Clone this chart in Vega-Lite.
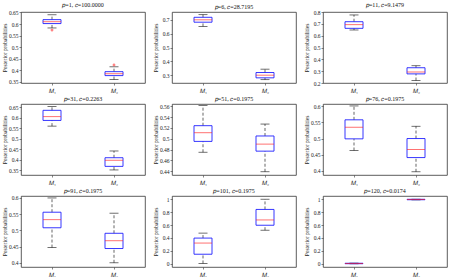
{
  "$schema": "https://vega.github.io/schema/vega-lite/v6.json",
  "padding": {"left": 1, "top": 1, "right": 0, "bottom": 0},
  "background": "white",
  "spacing": 1,
  "config": {
    "font": "Liberation Serif",
    "view": {"stroke": "#333", "strokeWidth": 0.8},
    "axis": {"labelFont": "Liberation Serif", "titleFont": "Liberation Serif", "labelFontSize": 5.5, "titleFontSize": 5.5, "titleFontWeight": "normal", "grid": false, "domain": false, "tickSize": 2, "tickWidth": 0.6, "tickColor": "#333", "labelColor": "#222", "titleColor": "#222", "labelPadding": 1, "titlePadding": 2, "labelOverlap": false, "labelFlush": false},
    "axisY": {"minExtent": 12, "maxExtent": 12, "tickCount": 20},
    "axisX": {"labelAngle": 0, "title": null, "labelFontSize": 6, "labelPadding": 2},
    "title": {"font": "Liberation Serif", "fontSize": 6, "fontWeight": "normal", "offset": 2, "frame": "group", "color": "#111"},
    "concat": {"spacing": 6}
  },
  "datasets": {
    "box": [
      {"panel": 1, "model": "𝑀₁", "lo": 0.583, "q1": 0.602, "med": 0.610, "q3": 0.619, "hi": 0.640},
      {"panel": 1, "model": "𝑀₂", "lo": 0.360, "q1": 0.377, "med": 0.385, "q3": 0.394, "hi": 0.415},
      {"panel": 2, "model": "𝑀₁", "lo": 0.651, "q1": 0.681, "med": 0.698, "q3": 0.716, "hi": 0.735},
      {"panel": 2, "model": "𝑀₂", "lo": 0.270, "q1": 0.283, "med": 0.302, "q3": 0.321, "hi": 0.345},
      {"panel": 3, "model": "𝑀₁", "lo": 0.648, "q1": 0.662, "med": 0.693, "q3": 0.718, "hi": 0.775},
      {"panel": 3, "model": "𝑀₂", "lo": 0.221, "q1": 0.277, "med": 0.293, "q3": 0.329, "hi": 0.346},
      {"panel": 4, "model": "𝑀₁", "lo": 0.560, "q1": 0.587, "med": 0.605, "q3": 0.635, "hi": 0.653},
      {"panel": 4, "model": "𝑀₂", "lo": 0.352, "q1": 0.369, "med": 0.398, "q3": 0.410, "hi": 0.442},
      {"panel": 5, "model": "𝑀₁", "lo": 0.475, "q1": 0.495, "med": 0.511, "q3": 0.524, "hi": 0.561},
      {"panel": 5, "model": "𝑀₂", "lo": 0.439, "q1": 0.477, "med": 0.490, "q3": 0.505, "hi": 0.527},
      {"panel": 6, "model": "𝑀₁", "lo": 0.463, "q1": 0.499, "med": 0.535, "q3": 0.558, "hi": 0.601},
      {"panel": 6, "model": "𝑀₂", "lo": 0.397, "q1": 0.441, "med": 0.466, "q3": 0.500, "hi": 0.538},
      {"panel": 7, "model": "𝑀₁", "lo": 0.447, "q1": 0.508, "med": 0.533, "q3": 0.556, "hi": 0.600},
      {"panel": 7, "model": "𝑀₂", "lo": 0.400, "q1": 0.444, "med": 0.468, "q3": 0.491, "hi": 0.553},
      {"panel": 8, "model": "𝑀₁", "lo": 0.005, "q1": 0.148, "med": 0.321, "q3": 0.398, "hi": 0.475},
      {"panel": 8, "model": "𝑀₂", "lo": 0.520, "q1": 0.597, "med": 0.679, "q3": 0.842, "hi": 1.0},
      {"panel": 9, "model": "𝑀₁", "lo": 0.0, "q1": 0.001, "med": 0.004, "q3": 0.008, "hi": 0.010},
      {"panel": 9, "model": "𝑀₂", "lo": 0.990, "q1": 0.992, "med": 0.996, "q3": 0.999, "hi": 1.0}
    ],
    "out": [
      {"panel": 1, "model": "𝑀₁", "value": 0.574},
      {"panel": 1, "model": "𝑀₂", "value": 0.423}
    ]
  },
  "vconcat": [
    {"hconcat": [
      {"width": 124, "height": 71, "title": "𝑝=1, 𝑐=100.0000",
       "layer": [
        {"data": {"name": "box"}, "transform": [{"filter": "datum.panel==1"}],
         "layer": [
          {"mark": {"type": "rule", "strokeDash": [3, 2], "color": "black", "strokeWidth": 0.6}, "encoding": {"x": {"field": "model", "type": "nominal", "scale": {"type": "point", "padding": 0.5, "domain": ["𝑀₁", "𝑀₂"]}}, "y": {"field": "q3", "type": "quantitative", "scale": {"domain": [0.345, 0.652], "nice": false, "zero": false}, "axis": {"values": [0.35, 0.4, 0.45, 0.5, 0.55, 0.6, 0.65], "tickCount": 20, "format": "~g", "labelOverlap": false, "labelFlush": false, "title": "Posterior probabilities"}}, "y2": {"field": "hi"}}},
          {"mark": {"type": "rule", "strokeDash": [3, 2], "color": "black", "strokeWidth": 0.6}, "encoding": {"x": {"field": "model", "type": "nominal", "scale": {"type": "point", "padding": 0.5, "domain": ["𝑀₁", "𝑀₂"]}}, "y": {"field": "lo", "type": "quantitative", "scale": {"domain": [0.345, 0.652], "nice": false, "zero": false}}, "y2": {"field": "q1"}}},
          {"mark": {"type": "tick", "color": "black", "size": 9, "thickness": 0.8}, "encoding": {"x": {"field": "model", "type": "nominal", "scale": {"type": "point", "padding": 0.5, "domain": ["𝑀₁", "𝑀₂"]}}, "y": {"field": "hi", "type": "quantitative", "scale": {"domain": [0.345, 0.652], "nice": false, "zero": false}}}},
          {"mark": {"type": "tick", "color": "black", "size": 9, "thickness": 0.8}, "encoding": {"x": {"field": "model", "type": "nominal", "scale": {"type": "point", "padding": 0.5, "domain": ["𝑀₁", "𝑀₂"]}}, "y": {"field": "lo", "type": "quantitative", "scale": {"domain": [0.345, 0.652], "nice": false, "zero": false}}}},
          {"mark": {"type": "bar", "size": 18, "fill": "white", "fillOpacity": 0, "stroke": "#2020ff", "strokeWidth": 0.9}, "encoding": {"x": {"field": "model", "type": "nominal", "scale": {"type": "point", "padding": 0.5, "domain": ["𝑀₁", "𝑀₂"]}}, "y": {"field": "q1", "type": "quantitative", "scale": {"domain": [0.345, 0.652], "nice": false, "zero": false}}, "y2": {"field": "q3"}}},
          {"mark": {"type": "tick", "color": "#ff2020", "size": 18, "thickness": 0.9}, "encoding": {"x": {"field": "model", "type": "nominal", "scale": {"type": "point", "padding": 0.5, "domain": ["𝑀₁", "𝑀₂"]}}, "y": {"field": "med", "type": "quantitative", "scale": {"domain": [0.345, 0.652], "nice": false, "zero": false}}}}
         ]},
        {"data": {"name": "out"}, "transform": [{"filter": "datum.panel==1"}],
         "mark": {"type": "point", "shape": "cross", "color": "#ff2020", "size": 8, "filled": true},
         "encoding": {"x": {"field": "model", "type": "nominal", "scale": {"type": "point", "padding": 0.5, "domain": ["𝑀₁", "𝑀₂"]}}, "y": {"field": "value", "type": "quantitative", "scale": {"domain": [0.345, 0.652], "nice": false, "zero": false}}}}
       ]},
      {"width": 124, "height": 71, "title": "𝑝=6, 𝑐=28.7195",
       "data": {"name": "box"}, "transform": [{"filter": "datum.panel==2"}],
       "layer": [
          {"mark": {"type": "rule", "strokeDash": [3, 2], "color": "black", "strokeWidth": 0.6}, "encoding": {"x": {"field": "model", "type": "nominal", "scale": {"type": "point", "padding": 0.5, "domain": ["𝑀₁", "𝑀₂"]}}, "y": {"field": "q3", "type": "quantitative", "scale": {"domain": [0.246, 0.754], "nice": false, "zero": false}, "axis": {"values": [0.3, 0.4, 0.5, 0.6, 0.7], "tickCount": 20, "format": "~g", "labelOverlap": false, "labelFlush": false, "title": "Posterior probabilities"}}, "y2": {"field": "hi"}}},
          {"mark": {"type": "rule", "strokeDash": [3, 2], "color": "black", "strokeWidth": 0.6}, "encoding": {"x": {"field": "model", "type": "nominal", "scale": {"type": "point", "padding": 0.5, "domain": ["𝑀₁", "𝑀₂"]}}, "y": {"field": "lo", "type": "quantitative", "scale": {"domain": [0.246, 0.754], "nice": false, "zero": false}}, "y2": {"field": "q1"}}},
          {"mark": {"type": "tick", "color": "black", "size": 9, "thickness": 0.8}, "encoding": {"x": {"field": "model", "type": "nominal", "scale": {"type": "point", "padding": 0.5, "domain": ["𝑀₁", "𝑀₂"]}}, "y": {"field": "hi", "type": "quantitative", "scale": {"domain": [0.246, 0.754], "nice": false, "zero": false}}}},
          {"mark": {"type": "tick", "color": "black", "size": 9, "thickness": 0.8}, "encoding": {"x": {"field": "model", "type": "nominal", "scale": {"type": "point", "padding": 0.5, "domain": ["𝑀₁", "𝑀₂"]}}, "y": {"field": "lo", "type": "quantitative", "scale": {"domain": [0.246, 0.754], "nice": false, "zero": false}}}},
          {"mark": {"type": "bar", "size": 18, "fill": "white", "fillOpacity": 0, "stroke": "#2020ff", "strokeWidth": 0.9}, "encoding": {"x": {"field": "model", "type": "nominal", "scale": {"type": "point", "padding": 0.5, "domain": ["𝑀₁", "𝑀₂"]}}, "y": {"field": "q1", "type": "quantitative", "scale": {"domain": [0.246, 0.754], "nice": false, "zero": false}}, "y2": {"field": "q3"}}},
          {"mark": {"type": "tick", "color": "#ff2020", "size": 18, "thickness": 0.9}, "encoding": {"x": {"field": "model", "type": "nominal", "scale": {"type": "point", "padding": 0.5, "domain": ["𝑀₁", "𝑀₂"]}}, "y": {"field": "med", "type": "quantitative", "scale": {"domain": [0.246, 0.754], "nice": false, "zero": false}}}}
       ]},
      {"width": 124, "height": 71, "title": "𝑝=11, 𝑐=9.1479",
       "data": {"name": "box"}, "transform": [{"filter": "datum.panel==3"}],
       "layer": [
          {"mark": {"type": "rule", "strokeDash": [3, 2], "color": "black", "strokeWidth": 0.6}, "encoding": {"x": {"field": "model", "type": "nominal", "scale": {"type": "point", "padding": 0.5, "domain": ["𝑀₁", "𝑀₂"]}}, "y": {"field": "q3", "type": "quantitative", "scale": {"domain": [0.2, 0.8], "nice": false, "zero": false}, "axis": {"values": [0.2, 0.3, 0.4, 0.5, 0.6, 0.7, 0.8], "tickCount": 20, "format": "~g", "labelOverlap": false, "labelFlush": false, "title": "Posterior probabilities"}}, "y2": {"field": "hi"}}},
          {"mark": {"type": "rule", "strokeDash": [3, 2], "color": "black", "strokeWidth": 0.6}, "encoding": {"x": {"field": "model", "type": "nominal", "scale": {"type": "point", "padding": 0.5, "domain": ["𝑀₁", "𝑀₂"]}}, "y": {"field": "lo", "type": "quantitative", "scale": {"domain": [0.2, 0.8], "nice": false, "zero": false}}, "y2": {"field": "q1"}}},
          {"mark": {"type": "tick", "color": "black", "size": 9, "thickness": 0.8}, "encoding": {"x": {"field": "model", "type": "nominal", "scale": {"type": "point", "padding": 0.5, "domain": ["𝑀₁", "𝑀₂"]}}, "y": {"field": "hi", "type": "quantitative", "scale": {"domain": [0.2, 0.8], "nice": false, "zero": false}}}},
          {"mark": {"type": "tick", "color": "black", "size": 9, "thickness": 0.8}, "encoding": {"x": {"field": "model", "type": "nominal", "scale": {"type": "point", "padding": 0.5, "domain": ["𝑀₁", "𝑀₂"]}}, "y": {"field": "lo", "type": "quantitative", "scale": {"domain": [0.2, 0.8], "nice": false, "zero": false}}}},
          {"mark": {"type": "bar", "size": 18, "fill": "white", "fillOpacity": 0, "stroke": "#2020ff", "strokeWidth": 0.9}, "encoding": {"x": {"field": "model", "type": "nominal", "scale": {"type": "point", "padding": 0.5, "domain": ["𝑀₁", "𝑀₂"]}}, "y": {"field": "q1", "type": "quantitative", "scale": {"domain": [0.2, 0.8], "nice": false, "zero": false}}, "y2": {"field": "q3"}}},
          {"mark": {"type": "tick", "color": "#ff2020", "size": 18, "thickness": 0.9}, "encoding": {"x": {"field": "model", "type": "nominal", "scale": {"type": "point", "padding": 0.5, "domain": ["𝑀₁", "𝑀₂"]}}, "y": {"field": "med", "type": "quantitative", "scale": {"domain": [0.2, 0.8], "nice": false, "zero": false}}}}
       ]}
    ]},
    {"hconcat": [
      {"width": 124, "height": 71, "title": "𝑝=31, 𝑐=0.2263",
       "data": {"name": "box"}, "transform": [{"filter": "datum.panel==4"}],
       "layer": [
          {"mark": {"type": "rule", "strokeDash": [3, 2], "color": "black", "strokeWidth": 0.6}, "encoding": {"x": {"field": "model", "type": "nominal", "scale": {"type": "point", "padding": 0.5, "domain": ["𝑀₁", "𝑀₂"]}}, "y": {"field": "q3", "type": "quantitative", "scale": {"domain": [0.328, 0.665], "nice": false, "zero": false}, "axis": {"values": [0.35, 0.4, 0.45, 0.5, 0.55, 0.6, 0.65], "tickCount": 20, "format": "~g", "labelOverlap": false, "labelFlush": false, "title": "Posterior probabilities"}}, "y2": {"field": "hi"}}},
          {"mark": {"type": "rule", "strokeDash": [3, 2], "color": "black", "strokeWidth": 0.6}, "encoding": {"x": {"field": "model", "type": "nominal", "scale": {"type": "point", "padding": 0.5, "domain": ["𝑀₁", "𝑀₂"]}}, "y": {"field": "lo", "type": "quantitative", "scale": {"domain": [0.328, 0.665], "nice": false, "zero": false}}, "y2": {"field": "q1"}}},
          {"mark": {"type": "tick", "color": "black", "size": 9, "thickness": 0.8}, "encoding": {"x": {"field": "model", "type": "nominal", "scale": {"type": "point", "padding": 0.5, "domain": ["𝑀₁", "𝑀₂"]}}, "y": {"field": "hi", "type": "quantitative", "scale": {"domain": [0.328, 0.665], "nice": false, "zero": false}}}},
          {"mark": {"type": "tick", "color": "black", "size": 9, "thickness": 0.8}, "encoding": {"x": {"field": "model", "type": "nominal", "scale": {"type": "point", "padding": 0.5, "domain": ["𝑀₁", "𝑀₂"]}}, "y": {"field": "lo", "type": "quantitative", "scale": {"domain": [0.328, 0.665], "nice": false, "zero": false}}}},
          {"mark": {"type": "bar", "size": 18, "fill": "white", "fillOpacity": 0, "stroke": "#2020ff", "strokeWidth": 0.9}, "encoding": {"x": {"field": "model", "type": "nominal", "scale": {"type": "point", "padding": 0.5, "domain": ["𝑀₁", "𝑀₂"]}}, "y": {"field": "q1", "type": "quantitative", "scale": {"domain": [0.328, 0.665], "nice": false, "zero": false}}, "y2": {"field": "q3"}}},
          {"mark": {"type": "tick", "color": "#ff2020", "size": 18, "thickness": 0.9}, "encoding": {"x": {"field": "model", "type": "nominal", "scale": {"type": "point", "padding": 0.5, "domain": ["𝑀₁", "𝑀₂"]}}, "y": {"field": "med", "type": "quantitative", "scale": {"domain": [0.328, 0.665], "nice": false, "zero": false}}}}
       ]},
      {"width": 124, "height": 71, "title": "𝑝=51, 𝑐=0.1975",
       "data": {"name": "box"}, "transform": [{"filter": "datum.panel==5"}],
       "layer": [
          {"mark": {"type": "rule", "strokeDash": [3, 2], "color": "black", "strokeWidth": 0.6}, "encoding": {"x": {"field": "model", "type": "nominal", "scale": {"type": "point", "padding": 0.5, "domain": ["𝑀₁", "𝑀₂"]}}, "y": {"field": "q3", "type": "quantitative", "scale": {"domain": [0.433, 0.564], "nice": false, "zero": false}, "axis": {"values": [0.44, 0.46, 0.48, 0.5, 0.52, 0.54, 0.56], "tickCount": 20, "format": "~g", "labelOverlap": false, "labelFlush": false, "title": "Posterior probabilities"}}, "y2": {"field": "hi"}}},
          {"mark": {"type": "rule", "strokeDash": [3, 2], "color": "black", "strokeWidth": 0.6}, "encoding": {"x": {"field": "model", "type": "nominal", "scale": {"type": "point", "padding": 0.5, "domain": ["𝑀₁", "𝑀₂"]}}, "y": {"field": "lo", "type": "quantitative", "scale": {"domain": [0.433, 0.564], "nice": false, "zero": false}}, "y2": {"field": "q1"}}},
          {"mark": {"type": "tick", "color": "black", "size": 9, "thickness": 0.8}, "encoding": {"x": {"field": "model", "type": "nominal", "scale": {"type": "point", "padding": 0.5, "domain": ["𝑀₁", "𝑀₂"]}}, "y": {"field": "hi", "type": "quantitative", "scale": {"domain": [0.433, 0.564], "nice": false, "zero": false}}}},
          {"mark": {"type": "tick", "color": "black", "size": 9, "thickness": 0.8}, "encoding": {"x": {"field": "model", "type": "nominal", "scale": {"type": "point", "padding": 0.5, "domain": ["𝑀₁", "𝑀₂"]}}, "y": {"field": "lo", "type": "quantitative", "scale": {"domain": [0.433, 0.564], "nice": false, "zero": false}}}},
          {"mark": {"type": "bar", "size": 18, "fill": "white", "fillOpacity": 0, "stroke": "#2020ff", "strokeWidth": 0.9}, "encoding": {"x": {"field": "model", "type": "nominal", "scale": {"type": "point", "padding": 0.5, "domain": ["𝑀₁", "𝑀₂"]}}, "y": {"field": "q1", "type": "quantitative", "scale": {"domain": [0.433, 0.564], "nice": false, "zero": false}}, "y2": {"field": "q3"}}},
          {"mark": {"type": "tick", "color": "#ff2020", "size": 18, "thickness": 0.9}, "encoding": {"x": {"field": "model", "type": "nominal", "scale": {"type": "point", "padding": 0.5, "domain": ["𝑀₁", "𝑀₂"]}}, "y": {"field": "med", "type": "quantitative", "scale": {"domain": [0.433, 0.564], "nice": false, "zero": false}}}}
       ]},
      {"width": 124, "height": 71, "title": "𝑝=76, 𝑐=0.1975",
       "data": {"name": "box"}, "transform": [{"filter": "datum.panel==6"}],
       "layer": [
          {"mark": {"type": "rule", "strokeDash": [3, 2], "color": "black", "strokeWidth": 0.6}, "encoding": {"x": {"field": "model", "type": "nominal", "scale": {"type": "point", "padding": 0.5, "domain": ["𝑀₁", "𝑀₂"]}}, "y": {"field": "q3", "type": "quantitative", "scale": {"domain": [0.387, 0.607], "nice": false, "zero": false}, "axis": {"values": [0.4, 0.45, 0.5, 0.55, 0.6], "tickCount": 20, "format": "~g", "labelOverlap": false, "labelFlush": false, "title": "Posterior probabilities"}}, "y2": {"field": "hi"}}},
          {"mark": {"type": "rule", "strokeDash": [3, 2], "color": "black", "strokeWidth": 0.6}, "encoding": {"x": {"field": "model", "type": "nominal", "scale": {"type": "point", "padding": 0.5, "domain": ["𝑀₁", "𝑀₂"]}}, "y": {"field": "lo", "type": "quantitative", "scale": {"domain": [0.387, 0.607], "nice": false, "zero": false}}, "y2": {"field": "q1"}}},
          {"mark": {"type": "tick", "color": "black", "size": 9, "thickness": 0.8}, "encoding": {"x": {"field": "model", "type": "nominal", "scale": {"type": "point", "padding": 0.5, "domain": ["𝑀₁", "𝑀₂"]}}, "y": {"field": "hi", "type": "quantitative", "scale": {"domain": [0.387, 0.607], "nice": false, "zero": false}}}},
          {"mark": {"type": "tick", "color": "black", "size": 9, "thickness": 0.8}, "encoding": {"x": {"field": "model", "type": "nominal", "scale": {"type": "point", "padding": 0.5, "domain": ["𝑀₁", "𝑀₂"]}}, "y": {"field": "lo", "type": "quantitative", "scale": {"domain": [0.387, 0.607], "nice": false, "zero": false}}}},
          {"mark": {"type": "bar", "size": 18, "fill": "white", "fillOpacity": 0, "stroke": "#2020ff", "strokeWidth": 0.9}, "encoding": {"x": {"field": "model", "type": "nominal", "scale": {"type": "point", "padding": 0.5, "domain": ["𝑀₁", "𝑀₂"]}}, "y": {"field": "q1", "type": "quantitative", "scale": {"domain": [0.387, 0.607], "nice": false, "zero": false}}, "y2": {"field": "q3"}}},
          {"mark": {"type": "tick", "color": "#ff2020", "size": 18, "thickness": 0.9}, "encoding": {"x": {"field": "model", "type": "nominal", "scale": {"type": "point", "padding": 0.5, "domain": ["𝑀₁", "𝑀₂"]}}, "y": {"field": "med", "type": "quantitative", "scale": {"domain": [0.387, 0.607], "nice": false, "zero": false}}}}
       ]}
    ]},
    {"hconcat": [
      {"width": 124, "height": 71, "title": "𝑝=91, 𝑐=0.1975",
       "data": {"name": "box"}, "transform": [{"filter": "datum.panel==7"}],
       "layer": [
          {"mark": {"type": "rule", "strokeDash": [3, 2], "color": "black", "strokeWidth": 0.6}, "encoding": {"x": {"field": "model", "type": "nominal", "scale": {"type": "point", "padding": 0.5, "domain": ["𝑀₁", "𝑀₂"]}}, "y": {"field": "q3", "type": "quantitative", "scale": {"domain": [0.387, 0.606], "nice": false, "zero": false}, "axis": {"values": [0.4, 0.45, 0.5, 0.55, 0.6], "tickCount": 20, "format": "~g", "labelOverlap": false, "labelFlush": false, "title": "Posterior probabilities"}}, "y2": {"field": "hi"}}},
          {"mark": {"type": "rule", "strokeDash": [3, 2], "color": "black", "strokeWidth": 0.6}, "encoding": {"x": {"field": "model", "type": "nominal", "scale": {"type": "point", "padding": 0.5, "domain": ["𝑀₁", "𝑀₂"]}}, "y": {"field": "lo", "type": "quantitative", "scale": {"domain": [0.387, 0.606], "nice": false, "zero": false}}, "y2": {"field": "q1"}}},
          {"mark": {"type": "tick", "color": "black", "size": 9, "thickness": 0.8}, "encoding": {"x": {"field": "model", "type": "nominal", "scale": {"type": "point", "padding": 0.5, "domain": ["𝑀₁", "𝑀₂"]}}, "y": {"field": "hi", "type": "quantitative", "scale": {"domain": [0.387, 0.606], "nice": false, "zero": false}}}},
          {"mark": {"type": "tick", "color": "black", "size": 9, "thickness": 0.8}, "encoding": {"x": {"field": "model", "type": "nominal", "scale": {"type": "point", "padding": 0.5, "domain": ["𝑀₁", "𝑀₂"]}}, "y": {"field": "lo", "type": "quantitative", "scale": {"domain": [0.387, 0.606], "nice": false, "zero": false}}}},
          {"mark": {"type": "bar", "size": 18, "fill": "white", "fillOpacity": 0, "stroke": "#2020ff", "strokeWidth": 0.9}, "encoding": {"x": {"field": "model", "type": "nominal", "scale": {"type": "point", "padding": 0.5, "domain": ["𝑀₁", "𝑀₂"]}}, "y": {"field": "q1", "type": "quantitative", "scale": {"domain": [0.387, 0.606], "nice": false, "zero": false}}, "y2": {"field": "q3"}}},
          {"mark": {"type": "tick", "color": "#ff2020", "size": 18, "thickness": 0.9}, "encoding": {"x": {"field": "model", "type": "nominal", "scale": {"type": "point", "padding": 0.5, "domain": ["𝑀₁", "𝑀₂"]}}, "y": {"field": "med", "type": "quantitative", "scale": {"domain": [0.387, 0.606], "nice": false, "zero": false}}}}
       ]},
      {"width": 124, "height": 71, "title": "𝑝=101, 𝑐=0.1975",
       "data": {"name": "box"}, "transform": [{"filter": "datum.panel==8"}],
       "layer": [
          {"mark": {"type": "rule", "strokeDash": [3, 2], "color": "black", "strokeWidth": 0.6}, "encoding": {"x": {"field": "model", "type": "nominal", "scale": {"type": "point", "padding": 0.5, "domain": ["𝑀₁", "𝑀₂"]}}, "y": {"field": "q3", "type": "quantitative", "scale": {"domain": [-0.05, 1.05], "nice": false, "zero": false}, "axis": {"values": [0, 0.2, 0.4, 0.6, 0.8, 1], "tickCount": 20, "format": "~g", "labelOverlap": false, "labelFlush": false, "title": "Posterior probabilities"}}, "y2": {"field": "hi"}}},
          {"mark": {"type": "rule", "strokeDash": [3, 2], "color": "black", "strokeWidth": 0.6}, "encoding": {"x": {"field": "model", "type": "nominal", "scale": {"type": "point", "padding": 0.5, "domain": ["𝑀₁", "𝑀₂"]}}, "y": {"field": "lo", "type": "quantitative", "scale": {"domain": [-0.05, 1.05], "nice": false, "zero": false}}, "y2": {"field": "q1"}}},
          {"mark": {"type": "tick", "color": "black", "size": 9, "thickness": 0.8}, "encoding": {"x": {"field": "model", "type": "nominal", "scale": {"type": "point", "padding": 0.5, "domain": ["𝑀₁", "𝑀₂"]}}, "y": {"field": "hi", "type": "quantitative", "scale": {"domain": [-0.05, 1.05], "nice": false, "zero": false}}}},
          {"mark": {"type": "tick", "color": "black", "size": 9, "thickness": 0.8}, "encoding": {"x": {"field": "model", "type": "nominal", "scale": {"type": "point", "padding": 0.5, "domain": ["𝑀₁", "𝑀₂"]}}, "y": {"field": "lo", "type": "quantitative", "scale": {"domain": [-0.05, 1.05], "nice": false, "zero": false}}}},
          {"mark": {"type": "bar", "size": 18, "fill": "white", "fillOpacity": 0, "stroke": "#2020ff", "strokeWidth": 0.9}, "encoding": {"x": {"field": "model", "type": "nominal", "scale": {"type": "point", "padding": 0.5, "domain": ["𝑀₁", "𝑀₂"]}}, "y": {"field": "q1", "type": "quantitative", "scale": {"domain": [-0.05, 1.05], "nice": false, "zero": false}}, "y2": {"field": "q3"}}},
          {"mark": {"type": "tick", "color": "#ff2020", "size": 18, "thickness": 0.9}, "encoding": {"x": {"field": "model", "type": "nominal", "scale": {"type": "point", "padding": 0.5, "domain": ["𝑀₁", "𝑀₂"]}}, "y": {"field": "med", "type": "quantitative", "scale": {"domain": [-0.05, 1.05], "nice": false, "zero": false}}}}
       ]},
      {"width": 124, "height": 71, "title": "𝑝=120, 𝑐=0.0174",
       "data": {"name": "box"}, "transform": [{"filter": "datum.panel==9"}],
       "layer": [
          {"mark": {"type": "rule", "strokeDash": [3, 2], "color": "black", "strokeWidth": 0.6}, "encoding": {"x": {"field": "model", "type": "nominal", "scale": {"type": "point", "padding": 0.5, "domain": ["𝑀₁", "𝑀₂"]}}, "y": {"field": "q3", "type": "quantitative", "scale": {"domain": [-0.05, 1.05], "nice": false, "zero": false}, "axis": {"values": [0, 0.2, 0.4, 0.6, 0.8, 1], "tickCount": 20, "format": "~g", "labelOverlap": false, "labelFlush": false, "title": "Posterior probabilities"}}, "y2": {"field": "hi"}}},
          {"mark": {"type": "rule", "strokeDash": [3, 2], "color": "black", "strokeWidth": 0.6}, "encoding": {"x": {"field": "model", "type": "nominal", "scale": {"type": "point", "padding": 0.5, "domain": ["𝑀₁", "𝑀₂"]}}, "y": {"field": "lo", "type": "quantitative", "scale": {"domain": [-0.05, 1.05], "nice": false, "zero": false}}, "y2": {"field": "q1"}}},
          {"mark": {"type": "tick", "color": "black", "size": 9, "thickness": 0.8}, "encoding": {"x": {"field": "model", "type": "nominal", "scale": {"type": "point", "padding": 0.5, "domain": ["𝑀₁", "𝑀₂"]}}, "y": {"field": "hi", "type": "quantitative", "scale": {"domain": [-0.05, 1.05], "nice": false, "zero": false}}}},
          {"mark": {"type": "tick", "color": "black", "size": 9, "thickness": 0.8}, "encoding": {"x": {"field": "model", "type": "nominal", "scale": {"type": "point", "padding": 0.5, "domain": ["𝑀₁", "𝑀₂"]}}, "y": {"field": "lo", "type": "quantitative", "scale": {"domain": [-0.05, 1.05], "nice": false, "zero": false}}}},
          {"mark": {"type": "bar", "size": 18, "fill": "white", "fillOpacity": 0, "stroke": "#2020ff", "strokeWidth": 0.9}, "encoding": {"x": {"field": "model", "type": "nominal", "scale": {"type": "point", "padding": 0.5, "domain": ["𝑀₁", "𝑀₂"]}}, "y": {"field": "q1", "type": "quantitative", "scale": {"domain": [-0.05, 1.05], "nice": false, "zero": false}}, "y2": {"field": "q3"}}},
          {"mark": {"type": "tick", "color": "#ff2020", "size": 18, "thickness": 0.9}, "encoding": {"x": {"field": "model", "type": "nominal", "scale": {"type": "point", "padding": 0.5, "domain": ["𝑀₁", "𝑀₂"]}}, "y": {"field": "med", "type": "quantitative", "scale": {"domain": [-0.05, 1.05], "nice": false, "zero": false}}}}
       ]}
    ]}
  ]
}
